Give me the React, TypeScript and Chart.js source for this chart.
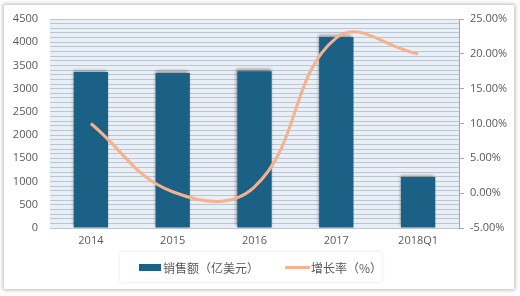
import React, { useEffect, useRef } from "react";
import { Chart, registerables } from "chart.js";

Chart.register(...registerables);

const categories = ["2014", "2015", "2016", "2017", "2018Q1"];
const salesValues = [3360, 3335, 3375, 4110, 1100];
const growthValues = [10.0, 0.2, 0.9, 22.3, 20.0];
const salesLabel = "销售额（亿美元）";
const growthLabel = "增长率（%）";

const BAR_COLOR = "#1b6185";
const LINE_COLOR = "#f5b28c";
const TEXT_COLOR = "#595959";

const plotBg = {
  id: "plotBg",
  beforeDraw(chart: any) {
    const { ctx, chartArea } = chart;
    ctx.save();
    ctx.fillStyle = "#e8eff6";
    ctx.fillRect(chartArea.left, chartArea.top, chartArea.right - chartArea.left, chartArea.bottom - chartArea.top);
    ctx.restore();
  },
};

const barShadow = {
  id: "barShadow",
  beforeDatasetDraw(chart: any, args: any) {
    if (chart.data.datasets[args.index].type === "bar") {
      const ctx = chart.ctx;
      ctx.save();
      ctx.shadowColor = "rgba(0,0,0,0.35)";
      ctx.shadowBlur = 3;
      ctx.shadowOffsetX = -1;
      ctx.shadowOffsetY = -2;
    }
  },
  afterDatasetDraw(chart: any, args: any) {
    if (chart.data.datasets[args.index].type === "bar") {
      chart.ctx.restore();
    }
  },
};

export default function App() {
  const ref = useRef<HTMLCanvasElement>(null);

  useEffect(() => {
    document.body.style.margin = "0";
    document.body.style.background = "#ffffff";
    const font = { family: "'Open Sans', 'Liberation Sans', sans-serif", size: 11 };
    const chart = new Chart(ref.current!, {
      type: "bar",
      data: {
        labels: categories,
        datasets: [
          {
            type: "line",
            label: growthLabel,
            data: growthValues,
            borderColor: LINE_COLOR,
            backgroundColor: LINE_COLOR,
            borderWidth: 3,
            pointRadius: 0,
            tension: 0.42,
            yAxisID: "y1",
            order: 0,
          } as any,
          {
            type: "bar",
            label: salesLabel,
            data: salesValues,
            backgroundColor: BAR_COLOR,
            barPercentage: 0.42,
            categoryPercentage: 1,
            yAxisID: "y",
            order: 1,
          } as any,
        ],
      },
      options: {
        animation: false,
        responsive: false,
        maintainAspectRatio: false,
        layout: { padding: { top: 19, left: 0, right: 0, bottom: 48 } },
        plugins: { legend: { display: false }, tooltip: { enabled: false } },
        scales: {
          x: {
            grid: { display: false, drawTicks: false },
            border: { display: false },
            ticks: { color: TEXT_COLOR, font, padding: 6 },
            afterFit(scale: any) {
              scale.height = 20;
            },
          },
          y: {
            position: "left",
            min: 0,
            max: 4500,
            border: { display: false },
            grid: { color: "#bcc6d0", lineWidth: 1, drawTicks: false },
            ticks: {
              stepSize: 100,
              autoSkip: false,
              color: TEXT_COLOR,
              font,
              padding: 12,
              callback: (v: any) => (Number(v) % 500 === 0 ? String(v) : ""),
            },
            afterFit(scale: any) {
              scale.width = 50;
            },
          },
          y1: {
            position: "right",
            min: -5,
            max: 25,
            border: { display: true, color: "#a6a6a6" },
            grid: { drawOnChartArea: false, color: "#a6a6a6", tickLength: 5 },
            ticks: {
              stepSize: 5,
              color: TEXT_COLOR,
              font,
              padding: 6,
              callback: (v: any) => Number(v).toFixed(2) + "%",
            },
            afterFit(scale: any) {
              scale.width = 61;
            },
          },
        },
      },
      plugins: [plotBg, barShadow],
    });
    return () => chart.destroy();
  }, []);

  const legendText: React.CSSProperties = {
    fontFamily: "'Noto Sans CJK SC', sans-serif",
    fontSize: 12,
    color: TEXT_COLOR,
    whiteSpace: "nowrap",
  };

  return (
    <div style={{ position: "relative", width: 520, height: 296, background: "#fff", overflow: "hidden" }}>
      <div
        style={{
          position: "absolute",
          left: 4,
          top: 5,
          width: 510,
          height: 284,
          background: "#fff",
          boxShadow: "0 0 4px 1px rgba(0,0,0,0.28)",
        }}
      />
      <canvas ref={ref} width={520} height={296} style={{ position: "absolute", left: 0, top: 0 }} />
      <div
        style={{
          position: "absolute",
          left: 120,
          top: 252,
          width: 262,
          height: 30,
          background: "#fff",
          boxShadow: "0 0 3px rgba(0,0,0,0.12)",
          display: "flex",
          alignItems: "center",
        }}
      >
        <span style={{ display: "inline-block", width: 24, height: 7, background: BAR_COLOR, marginLeft: 19 }} />
        <span style={{ ...legendText, marginLeft: 2 }}>{salesLabel}</span>
        <span style={{ display: "inline-block", width: 27, height: 3, background: LINE_COLOR, marginLeft: 26, borderRadius: 1 }} />
        <span style={{ ...legendText, marginLeft: 1 }}>{growthLabel}</span>
      </div>
    </div>
  );
}
